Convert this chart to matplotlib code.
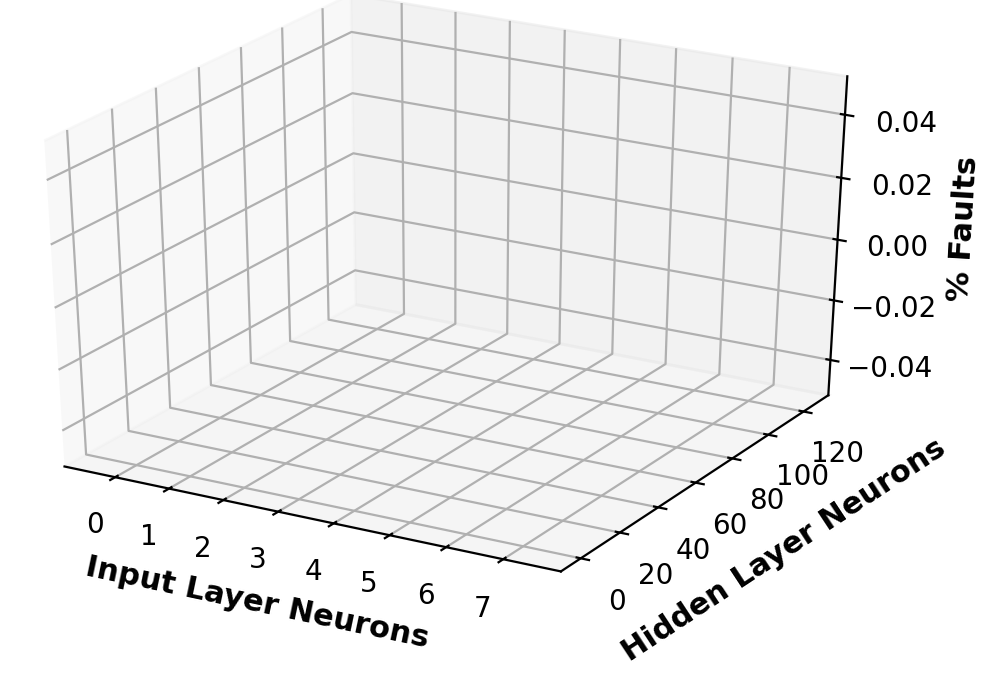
import matplotlib
matplotlib.use("Agg")
import matplotlib.pyplot as plt
import numpy as np

x_ticks = [0, 1, 2, 3, 4, 5, 6, 7]
y_ticks = [0, 20, 40, 60, 80, 100, 120]
z_ticks = [-0.04, -0.02, 0.00, 0.02, 0.04]

W, H, DPI = 988, 676, 200
fig = plt.figure(figsize=(W / DPI, H / DPI), dpi=DPI)
aw, ah = 1060.0, 688.0
left_px, top_px = -92.0, -61.5
ax = fig.add_axes([left_px / W, (H - top_px - ah) / H, aw / W, ah / H], projection='3d')
# classic (stretched) 3D projection filling the whole axes rectangle
ax.apply_aspect = lambda position=None: None
ax.set_box_aspect((1, 1, 1), zoom=np.sqrt(3) / (1.8294640721620434 * 25 / 24))

ax.set_xlim(-0.95, 8.0)
ax.set_ylim(-10, 134.3)
ax.set_zlim(-0.052, 0.052)
ax.set_xticks(x_ticks)
ax.set_yticks(y_ticks)
ax.set_zticks(z_ticks)
ax.set_zticklabels([f"{v:.2f}".replace("-", "\u2212") for v in z_ticks])
ax.tick_params(axis='z', pad=5)
ax.set_xlabel("Input Layer Neurons", fontweight="bold", fontsize=11, labelpad=7)
ax.set_ylabel("Hidden Layer Neurons", fontweight="bold", fontsize=11, labelpad=7)
ax.set_zlabel("% Faults", fontweight="bold", fontsize=11, labelpad=6.5)

fig.savefig("out.png", dpi=DPI)
